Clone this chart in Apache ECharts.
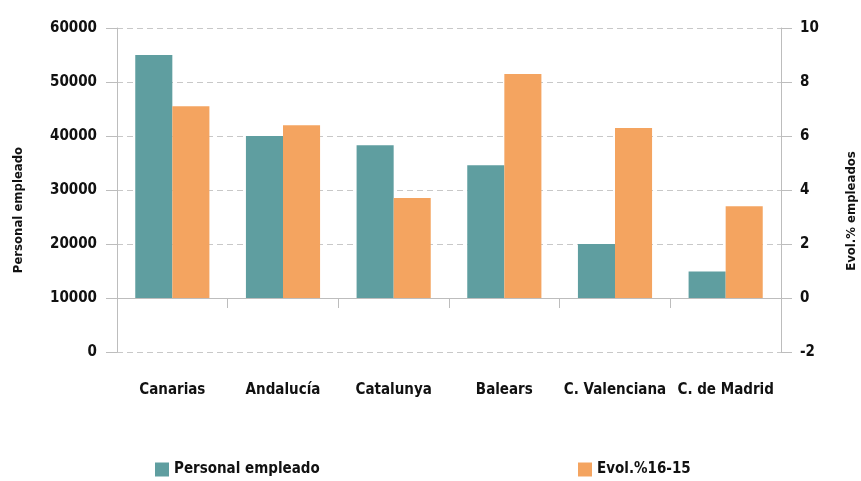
<!DOCTYPE html>
<html>
<head>
<meta charset="utf-8">
<script src="https://cdn.jsdelivr.net/npm/echarts@6/dist/echarts.min.js"></script>
<style>
  html, body { margin: 0; padding: 0; background: #fff; }
  #chart { width: 861px; height: 481px; }
</style>
</head>
<body>
<div id="chart"></div>
<script>
// datos
var categorias = ["Canarias", "Andalucía", "Catalunya", "Balears", "C. Valenciana", "C. de Madrid"];
var personalEmpleado = [55000, 40000, 38300, 34600, 20000, 14900];
var evol1615 = [7.1, 6.4, 3.7, 8.3, 6.3, 3.4];

var FONT = "'Liberation Sans Narrow', 'DejaVu Sans Condensed', sans-serif";
var GRIS = "#bdbdbd";
var dashed = { show: true, lineStyle: { color: "#c8c8c8", type: [6, 4], width: 1.2 } };

var myChart = echarts.init(document.getElementById("chart"));

var option = {
  animation: false,
  textStyle: { fontFamily: FONT, fontWeight: "bold", color: "#111" },
  legend: [
    {
      left: 150, top: 457, itemWidth: 14, itemHeight: 14, itemGap: 6, icon: "rect",
      data: ["Personal empleado"],
      textStyle: { fontFamily: FONT, fontWeight: "bold", fontSize: 15, color: "#111" },
    },
    {
      left: 573, top: 457, itemWidth: 14, itemHeight: 14, icon: "rect",
      data: ["Evol.%16-15"],
      textStyle: { fontFamily: FONT, fontWeight: "bold", fontSize: 15, color: "#111" },
    },
  ],
  // grid 0: zona de las barras, grid 1: franja bajo el eje (0 / -2)
  grid: [
    { left: 117, right: 80, top: 28, height: 270 },
    { left: 117, right: 80, top: 298, height: 54 },
  ],
  xAxis: [
    {
      type: "category", gridIndex: 0, data: categorias,
      axisLine: { lineStyle: { color: GRIS } },
      axisTick: { show: true, length: 10, lineStyle: { color: GRIS } },
      axisLabel: { show: false },
    },
    {
      type: "category", gridIndex: 1, data: categorias,
      axisLine: { show: false },
      axisTick: { show: false },
      axisLabel: {
        interval: 0, margin: 31, fontFamily: FONT, fontWeight: "bold",
        fontSize: 15, color: "#111",
      },
    },
  ],
  yAxis: [
    {
      type: "value", gridIndex: 0, position: "left", min: 10000, max: 60000, interval: 10000,
      axisLine: { show: true, lineStyle: { color: GRIS } },
      axisTick: { show: true, length: 11, lineStyle: { color: GRIS } },
      axisLabel: { margin: 20, fontSize: 15, fontFamily: FONT, fontWeight: "bold", color: "#111",
        formatter: function (v) { return String(v); } },
      splitLine: dashed,
    },
    {
      type: "value", gridIndex: 0, position: "right", min: 0, max: 10, interval: 2,
      axisLine: { show: true, lineStyle: { color: GRIS } },
      axisTick: { show: true, length: 11, lineStyle: { color: GRIS } },
      axisLabel: { margin: 19, fontSize: 15, fontFamily: FONT, fontWeight: "bold", color: "#111" },
      splitLine: { show: false },
    },
    {
      type: "value", gridIndex: 1, position: "left", min: 0, max: 10000, interval: 10000,
      axisLine: { show: true, lineStyle: { color: GRIS } },
      axisTick: { show: true, length: 11, lineStyle: { color: GRIS } },
      axisLabel: { showMaxLabel: false, margin: 20, fontSize: 15, fontFamily: FONT, fontWeight: "bold", color: "#111" },
      splitLine: dashed,
    },
    {
      type: "value", gridIndex: 1, position: "right", min: -2, max: 0, interval: 2,
      axisLine: { show: true, lineStyle: { color: GRIS } },
      axisTick: { show: true, length: 11, lineStyle: { color: GRIS } },
      axisLabel: { showMaxLabel: false, margin: 19, fontSize: 15, fontFamily: FONT, fontWeight: "bold", color: "#111" },
      splitLine: { show: false },
    },
  ],
  graphic: [
    {
      type: "text", rotation: Math.PI / 2,
      x: 19, y: 210,
      style: { text: "Personal empleado", fontFamily: FONT, fontWeight: "bold", fontSize: 13, fill: "#111",
        align: "center", verticalAlign: "middle" },
    },
    {
      type: "text", rotation: Math.PI / 2,
      x: 852, y: 211,
      style: { text: "Evol.% empleados", fontFamily: FONT, fontWeight: "bold", fontSize: 13, fill: "#111",
        align: "center", verticalAlign: "middle" },
    },
  ],
  series: [
    {
      name: "Personal empleado", type: "bar", xAxisIndex: 0, yAxisIndex: 0,
      data: personalEmpleado, barGap: 0, barCategoryGap: "33%", clip: true,
      itemStyle: { color: "#5F9EA0" },
    },
    {
      name: "Evol.%16-15", type: "bar", xAxisIndex: 0, yAxisIndex: 1,
      data: evol1615, barGap: 0, barCategoryGap: "33%", clip: true,
      itemStyle: { color: "#F4A460" },
    },
  ],
};

myChart.setOption(option);
</script>
</body>
</html>
